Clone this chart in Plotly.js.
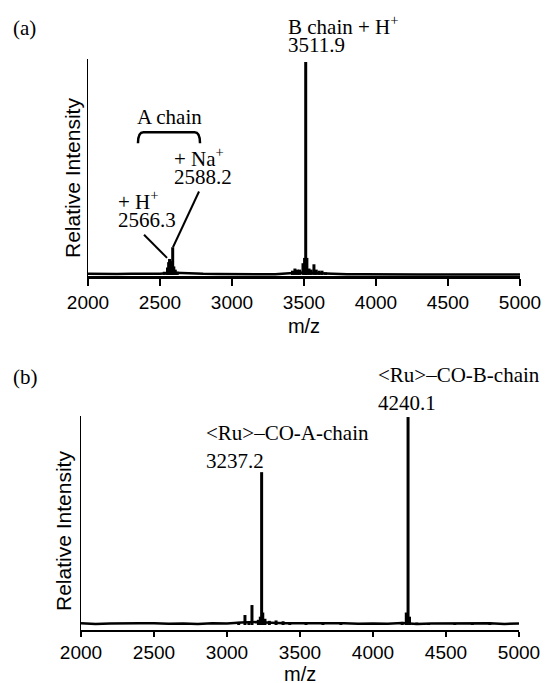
<!DOCTYPE html>
<html>
<head>
<meta charset="utf-8">
<script src="https://cdn.plot.ly/plotly-3.0.1.min.js"></script>
<style>html,body{margin:0;padding:0;background:#fff;}#chart{width:547px;height:683px;}</style>
</head>
<body>
<div id="chart"></div>
<script>
// ---------- data ----------
const tickVals = [2000, 2500, 3000, 3500, 4000, 4500, 5000];
const tickText = ['2000', '2500', '3000', '3500', '4000', '4500', '5000'];

// baseline (m/z grid and relative intensity) panel (a)
const baseMz = [2000,2100,2200,2300,2400,2500,2600,2700,2800,2900,3000,3100,3200,3300,3400,3500,3600,3700,3800,3900,4000,4100,4200,4300,4400,4500,4600,4700,4800,4900,5000];
const baseA = [0.5,0.3,0.4,0.5,0.4,0.6,1.0,0.6,0.5,0.4,0.4,0.4,0.4,0.3,0.8,1.2,0.8,0.5,0.3,0.3,0.2,0.2,0.2,0.2,0.2,0.2,0.2,0.2,0.2,0.2,0.2];
// peaks panel (a)
const peakMzA = [2530,2552,2560,2566.3,2574,2582,2588.2,2596,2606,2620,3420,3437,3455,3470,3493,3504,3511.9,3520,3535,3550,3569,3585,3605,3625,3650];
const peakHA  = [1.5,3.5,6,7.5,6.5,5,13,4,2.5,1.5,2,3,2.5,2.5,5.5,8,100,8,3,2.5,5,2.5,2,2,1.2];

// baseline panel (b)
const baseB = [0.9,0.5,0.7,0.6,0.8,0.9,0.6,0.7,0.5,0.8,0.7,1.2,1.4,1.1,0.8,0.9,0.7,0.8,0.9,0.6,0.7,0.6,1.0,0.5,0.7,0.8,0.6,0.7,0.9,0.5,0.7];
// peaks panel (b)
const peakMzB = [3080,3123,3150,3171,3215,3228,3237.2,3245,3260,3290,3336,3384,3430,3541,3657,3780,3900,4040,4200,4228,4240.1,4250,4300,4380,4560,4680,4800,4920];
const peakHB  = [1.5,4.8,1.2,9.6,2.5,4,73.5,6,3,2,2.2,1.8,1,1.2,1.2,0.8,0.8,0.8,1.5,6,100,4,1.2,0.8,0.8,0.8,0.8,0.8];

// ---------- helpers ----------
function sticks(mz, h) {
  const x = [], y = [];
  for (let i = 0; i < mz.length; i++) { x.push(mz[i], mz[i], null); y.push(0, h[i], null); }
  return {x, y};
}
const sA = sticks(peakMzA, peakHA);
const sB = sticks(peakMzB, peakHB);
const lnBase = {color: '#000', width: 2.5};
const lnPeak = {color: '#000', width: 3};

const traces = [
  {x: baseMz, y: baseA, type: 'scatter', mode: 'lines', line: lnBase, xaxis: 'x', yaxis: 'y', hoverinfo: 'skip'},
  {x: sA.x, y: sA.y, type: 'scatter', mode: 'lines', line: lnPeak, xaxis: 'x', yaxis: 'y', hoverinfo: 'skip'},
  {x: baseMz, y: baseB, type: 'scatter', mode: 'lines', line: lnBase, xaxis: 'x2', yaxis: 'y2', hoverinfo: 'skip'},
  {x: sB.x, y: sB.y, type: 'scatter', mode: 'lines', line: lnPeak, xaxis: 'x2', yaxis: 'y2', hoverinfo: 'skip'}
];

const sans = 'Liberation Sans, Arial, sans-serif';
const serif = 'Liberation Serif, Times New Roman, serif';
const W = 547, H = 683;

function xax(domain, anchor, lw, tl, withTitle) {
  const a = {
    domain: domain, anchor: anchor, range: [2000, 5000],
    tickmode: 'array', tickvals: tickVals, ticktext: tickText,
    ticks: 'outside', ticklen: tl, tickwidth: 1.5, tickcolor: '#000',
    showline: true, linewidth: lw, linecolor: '#000',
    showgrid: false, zeroline: false,
    tickfont: {family: sans, size: 19, color: '#000'}
  };
  if (withTitle) a.title = {text: 'm/z', font: {family: sans, size: 20, color: '#000'}, standoff: 8};
  return a;
}
function yax(domain, anchor, range) {
  return {
    domain: domain, anchor: anchor, range: range,
    showline: true, linewidth: 1.5, linecolor: '#000',
    showticklabels: false, ticks: '', showgrid: false, zeroline: false
  };
}

function ann(text, px, py, size) {
  return {text: text, xref: 'paper', yref: 'paper', x: px / W, y: 1 - py / H,
    xanchor: 'left', yanchor: 'middle', showarrow: false,
    font: {family: serif, size: size || 21, color: '#000'}};
}
function ytitle(px, py) {
  return {text: 'Relative Intensity', xref: 'paper', yref: 'paper', x: px / W, y: 1 - py / H,
    xanchor: 'center', yanchor: 'middle', textangle: -90, showarrow: false,
    font: {family: sans, size: 21, color: '#000'}};
}

const layout = {
  width: W, height: H,
  margin: {l: 0, r: 0, t: 0, b: 0},
  paper_bgcolor: '#fff', plot_bgcolor: '#fff',
  showlegend: false,
  xaxis: xax([88 / W, 520 / W], 'y', 3, 7, true),
  yaxis: yax([1 - 276 / H, 1 - 59 / H], 'x', [-0.5, 101.4]),
  xaxis2: xax([81 / W, 519 / W], 'y2', 1.5, 5, false),
  yaxis2: yax([1 - 630 / H, 1 - 416 / H], 'x2', [-2.4, 100.5]),
  annotations: [
    ytitle(72, 178),
    ytitle(63, 531),
    {text: 'm/z', xref: 'paper', yref: 'paper', x: 300 / W, y: 1 - 674 / H, xanchor: 'center', yanchor: 'middle',
      showarrow: false, font: {family: sans, size: 20, color: '#000'}},
    ann('(a)', 11, 28),
    ann('B chain + H<sup>+</sup>', 286, 25),
    ann('3511.9', 286, 45),
    ann('A chain', 135, 117),
    ann('+ Na<sup>+</sup>', 172, 158),
    ann('2588.2', 172, 177),
    ann('+ H<sup>+</sup>', 116, 200),
    ann('2566.3', 116, 220),
    ann('(b)', 11, 377),
    ann('&lt;Ru&gt;–CO-B-chain', 376, 375),
    ann('4240.1', 376, 403),
    ann('&lt;Ru&gt;–CO-A-chain', 204, 433),
    ann('3237.2', 204, 461)
  ],
  shapes: [
    // A chain bracket
    {type: 'path', xref: 'x', yref: 'y', path: 'M 2347,61.8 Q 2347,67 2385,67 L 2740,67 Q 2778,67 2778,61.8',
      line: {color: '#000', width: 2.5}},
    // leader + H+
    {type: 'line', xref: 'x', yref: 'y', x0: 2389, y0: 18.9, x1: 2549, y1: 8.0, line: {color: '#000', width: 2}},
    // leader + Na+
    {type: 'line', xref: 'x', yref: 'y', x0: 2771, y0: 39.2, x1: 2590, y1: 13, line: {color: '#000', width: 2}}
  ]
};

Plotly.newPlot('chart', traces, layout, {displayModeBar: false, staticPlot: true});
</script>
</body>
</html>
